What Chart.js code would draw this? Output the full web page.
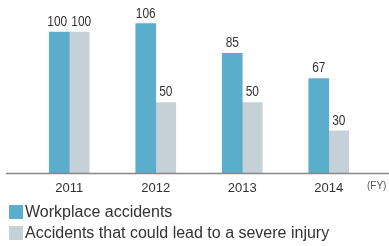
<!DOCTYPE html>
<html>
<head>
<meta charset="utf-8">
<script src="https://cdn.jsdelivr.net/npm/chart.js@4"></script>
<style>
  body { margin: 0; background: #fff; font-family: "Liberation Sans", Arial, sans-serif; }
  #wrap { position: relative; width: 389px; height: 246px; overflow: hidden; }
  #chart { position: absolute; left: 0; top: 0; }
  .leg { position: absolute; left: 9px; font-size: 16px; color: #333; line-height: 14px; white-space: nowrap; }
  .leg span { display: inline-block; width: 14px; height: 14px; vertical-align: top; margin-right: 2px; }
  #fy { position: absolute; left: 367px; top: 180px; font-size: 10px; color: #555; }
</style>
</head>
<body>
<div id="wrap">
  <canvas id="chart" width="389" height="246"></canvas>
  <div id="fy">(FY)</div>
  <div class="leg" style="top:205px"><span style="background:#5badcc"></span>Workplace accidents</div>
  <div class="leg" style="top:226px"><span style="background:#c6d1d7"></span>Accidents that could lead to a severe injury</div>
</div>
<script>
// Data
const years = ['2011', '2012', '2013', '2014'];
const workplace = [100, 106, 85, 67];
const severe = [100, 50, 50, 30];

// value labels above bars (slightly condensed like the original)
const valueLabels = {
  id: 'valueLabels',
  afterDatasetsDraw(chart) {
    const ctx = chart.ctx;
    const m0 = chart.getDatasetMeta(0).data;
    const m1 = chart.getDatasetMeta(1).data;
    chart.data.datasets.forEach((ds, i) => {
      chart.getDatasetMeta(i).data.forEach((bar, j) => {
        // push paired labels apart when they sit at the same height
        let dx = 0;
        if (Math.abs(m0[j].y - m1[j].y) < 12) dx = i === 0 ? -2 : 2;
        ctx.save();
        ctx.font = '14px "Liberation Sans", Arial, sans-serif';
        ctx.fillStyle = '#333';
        ctx.textAlign = 'center';
        ctx.textBaseline = 'bottom';
        ctx.translate(bar.x + dx, bar.y - 3);
        ctx.scale(0.85, 1);
        ctx.fillText(ds.data[j], 0, 0);
        ctx.restore();
      });
    });
  }
};

// baseline across the full width
const baseLine = {
  id: 'baseLine',
  afterDatasetsDraw(chart) {
    const ctx = chart.ctx;
    const y = chart.chartArea.bottom + 0.5;
    ctx.save();
    ctx.strokeStyle = '#888';
    ctx.lineWidth = 1.5;
    ctx.beginPath();
    ctx.moveTo(6, y);
    ctx.lineTo(389, y);
    ctx.stroke();
    ctx.restore();
  }
};

new Chart(document.getElementById('chart'), {
  type: 'bar',
  data: {
    labels: years,
    datasets: [
      { label: 'Workplace accidents', data: workplace, backgroundColor: '#5badcc', barThickness: 20 },
      { label: 'Accidents that could lead to a severe injury', data: severe, backgroundColor: '#c6d1d7', barThickness: 20 }
    ]
  },
  options: {
    responsive: false,
    animation: false,
    layout: { padding: { left: 26, right: 17, top: 11, bottom: 51 } },
    plugins: { legend: { display: false }, tooltip: { enabled: false } },
    scales: {
      x: {
        grid: { display: false },
        border: { display: false },
        ticks: { color: '#333', font: { size: 13, family: '"Liberation Sans", Arial, sans-serif' }, padding: 0 },
        afterFit(scale) { scale.height = 22; }
      },
      y: { display: false, min: 0, max: 115 }
    }
  },
  plugins: [valueLabels, baseLine]
});
</script>
</body>
</html>
